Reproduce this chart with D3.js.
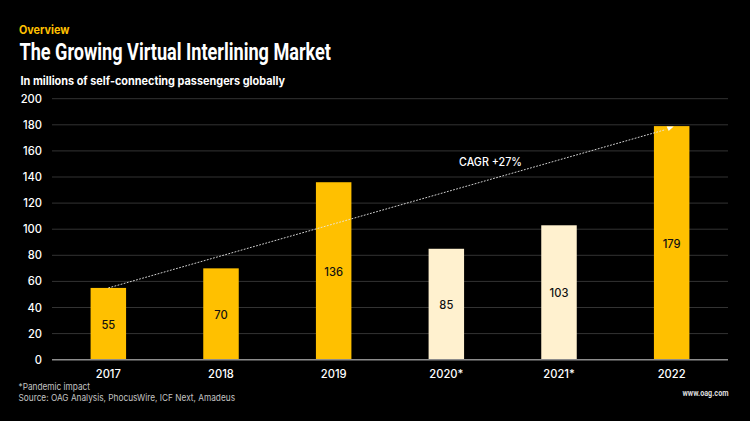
<!DOCTYPE html>
<html><head><meta charset="utf-8">
<script src="https://cdn.jsdelivr.net/npm/d3@7"></script>
<style>html,body{margin:0;padding:0;background:#000;}svg{display:block;font-family:Inter,"Liberation Sans",Arial,sans-serif;}</style>
</head><body><div id="chart"></div>
<script>
const categories=["2017","2018","2019","2020*","2021*","2022"];
const values=[55,70,136,85,103,179];
const pandemic=["2020*","2021*"];
const yTicks=[0,20,40,60,80,100,120,140,160,180,200];
const trend=[["2017",55],["2022",179]];
const W=750,H=421;
const svg=d3.select("#chart").append("svg").attr("width",W).attr("height",H);
svg.append("rect").attr("width",W).attr("height",H).attr("fill","#000");
const x=d3.scaleBand().domain(categories).range([52,728]).paddingInner(0.685).paddingOuter(0.3425);
const y=d3.scaleLinear().domain([0,200]).range([359.7,98.7]);
const yAxis=d3.axisLeft(y).tickValues(yTicks).tickSize(0).tickPadding(0);
const gy=svg.append("g").attr("transform","translate(42,0)").call(yAxis);
gy.select(".domain").remove();
gy.selectAll("text").attr("fill","#fff").attr("font-size",11.2).attr("font-weight",500).attr("font-family","Inter");
svg.append("g").selectAll("line").data(yTicks.filter(d=>d>0)).join("line")
 .attr("x1",52).attr("x2",728).attr("y1",d=>y(d)).attr("y2",d=>y(d))
 .attr("stroke","#333").attr("stroke-width",1);
svg.append("g").selectAll("rect").data(categories).join("rect")
 .attr("x",d=>x(d)).attr("width",x.bandwidth())
 .attr("y",(d,i)=>y(values[i])).attr("height",(d,i)=>y(0)-y(values[i]))
 .attr("fill",d=>pandemic.includes(d)?"#fff1cf":"#ffc000");
svg.append("line").attr("x1",52).attr("x2",728).attr("y1",y(0)).attr("y2",y(0)).attr("stroke","#8c8c8c").attr("stroke-width",1.4);
const xAxis=d3.axisBottom(x).tickSize(0).tickPadding(0);
const gx=svg.append("g").attr("transform","translate(0,370)").call(xAxis);
gx.select(".domain").remove();
gx.selectAll("text").attr("fill","#fff").attr("font-size",11.2).attr("font-weight",500).attr("font-family","Inter");
svg.append("g").selectAll("text").data(categories).join("text")
 .attr("x",d=>x(d)+x.bandwidth()/2)
 .attr("y",(d,i)=>y(values[i]/2)+5)
 .attr("text-anchor","middle").attr("font-size",11.2).attr("font-weight",500).attr("fill","#111")
 .text((d,i)=>values[i]);
const cx=d=>x(d)+x.bandwidth()/2;
const tx0=cx(trend[0][0]), ty0=y(trend[0][1]), tx1=cx(trend[1][0]), ty1=y(trend[1][1]);
svg.append("line").attr("x1",tx0).attr("y1",ty0).attr("x2",tx1-6).attr("y2",ty1+3.5)
 .attr("stroke","#e8e8e8").attr("stroke-width",0.9).attr("stroke-dasharray","1.8 1.4");
svg.append("path").attr("d",d3.line()([[tx1-5,ty1+0.5],[tx1+2,ty1+0.5],[tx1-3,ty1+5]])).attr("fill","#fff");
svg.append("text").attr("x",459).attr("y",165.5).attr("font-size",11.2).attr("font-weight",500).attr("fill","#fff").attr("textLength",63).attr("lengthAdjust","spacingAndGlyphs").text("CAGR +27%");
svg.append("text").attr("x",19).attr("y",34).attr("font-size",11.2).attr("font-weight",700).attr("fill","#ffc000").attr("textLength",50.5).attr("lengthAdjust","spacingAndGlyphs").text("Overview");
svg.append("text").attr("x",19.5).attr("y",59.5).attr("font-size",24).attr("font-weight",700).attr("fill","#fff")
 .attr("font-family","Roboto").attr("textLength",311.5).attr("lengthAdjust","spacingAndGlyphs").text("The Growing Virtual Interlining Market");
svg.append("text").attr("x",20.5).attr("y",85).attr("font-size",11.5).attr("font-weight",700).attr("fill","#fff").attr("textLength",264.5).attr("lengthAdjust","spacingAndGlyphs").text("In millions of self-connecting passengers globally");
svg.append("text").attr("x",18.5).attr("y",390).attr("font-size",9.2).attr("fill","#c4c4c4").attr("textLength",71.5).attr("lengthAdjust","spacingAndGlyphs").text("*Pandemic impact");
svg.append("text").attr("x",18.5).attr("y",400.5).attr("font-size",9.2).attr("fill","#c4c4c4").attr("textLength",216.5).attr("lengthAdjust","spacingAndGlyphs").text("Source: OAG Analysis, PhocusWire, ICF Next, Amadeus");
svg.append("text").attr("x",682.5).attr("y",395.5).attr("font-size",9.5).attr("font-weight",700).attr("fill","#ddd")
 .attr("font-family","Roboto").attr("textLength",46).attr("lengthAdjust","spacingAndGlyphs").text("www.oag.com");
</script></body></html>
